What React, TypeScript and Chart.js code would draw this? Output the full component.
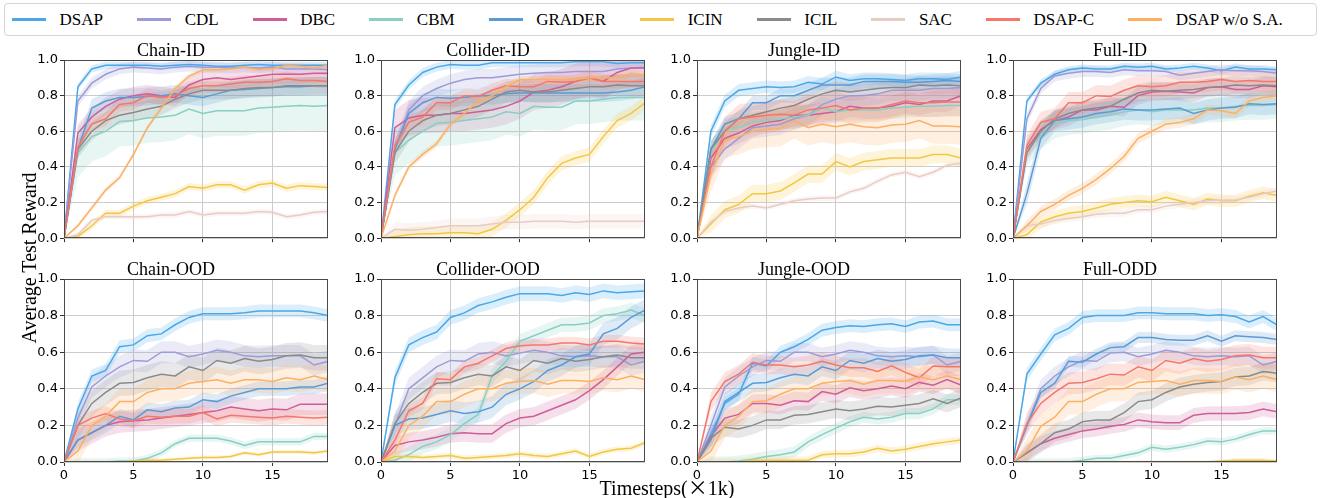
import React, { useEffect, useRef } from 'react';
import { Chart, registerables } from 'chart.js';

Chart.register(...registerables);

// ---------- data ----------
const timesteps = [0, 1, 2, 3, 4, 5, 6, 7, 8, 9, 10, 11, 12, 13, 14, 15, 16, 17, 18, 19];
const xTickValues = [0, 5, 10, 15];
const yTickValues = [0, 0.2, 0.4, 0.6, 0.8, 1.0];

const seriesNames = ['DSAP', 'CDL', 'DBC', 'CBM', 'GRADER', 'ICIN', 'ICIL', 'SAC', 'DSAP-C', 'DSAP w/o S.A.'];
const seriesColors = ['#4aa8ea', '#9d9bd6', '#cf5d9a', '#88cfc4', '#5b9bd5', '#f3c644', '#8a8a8a', '#e9cbc6', '#f4776a', '#fcb064'];

const panelTitles = ['Chain-ID', 'Collider-ID', 'Jungle-ID', 'Full-ID', 'Chain-OOD', 'Collider-OOD', 'Jungle-OOD', 'Full-ODD'];

// series order in every panel: DSAP, CDL, DBC, CBM, GRADER, ICIN, ICIL, SAC, DSAP-C, DSAP w/o S.A.
const chainIdValues = [
  [0, 0.85, 0.95, 0.97, 0.97, 0.97, 0.97, 0.965, 0.97, 0.975, 0.97, 0.965, 0.965, 0.97, 0.975, 0.97, 0.97, 0.97, 0.97, 0.97],
  [0, 0.77, 0.87, 0.92, 0.95, 0.96, 0.955, 0.95, 0.96, 0.965, 0.96, 0.96, 0.955, 0.96, 0.955, 0.96, 0.95, 0.95, 0.95, 0.945],
  [0, 0.59, 0.68, 0.74, 0.78, 0.80, 0.81, 0.80, 0.79, 0.86, 0.89, 0.90, 0.89, 0.90, 0.91, 0.92, 0.92, 0.92, 0.925, 0.925],
  [0, 0.48, 0.57, 0.60, 0.655, 0.66, 0.675, 0.68, 0.69, 0.725, 0.70, 0.715, 0.715, 0.715, 0.73, 0.735, 0.74, 0.745, 0.74, 0.745],
  [0, 0.50, 0.73, 0.77, 0.79, 0.79, 0.795, 0.80, 0.81, 0.80, 0.79, 0.81, 0.83, 0.835, 0.84, 0.845, 0.85, 0.85, 0.855, 0.855],
  [0, 0.01, 0.07, 0.14, 0.14, 0.18, 0.21, 0.23, 0.25, 0.29, 0.28, 0.30, 0.30, 0.27, 0.30, 0.31, 0.28, 0.295, 0.29, 0.285],
  [0, 0.50, 0.60, 0.66, 0.69, 0.705, 0.725, 0.74, 0.78, 0.81, 0.83, 0.83, 0.83, 0.84, 0.845, 0.845, 0.855, 0.855, 0.855, 0.855],
  [0, 0.02, 0.10, 0.12, 0.12, 0.12, 0.12, 0.13, 0.13, 0.15, 0.13, 0.14, 0.14, 0.14, 0.15, 0.145, 0.12, 0.13, 0.145, 0.15],
  [0, 0.51, 0.64, 0.67, 0.75, 0.76, 0.80, 0.79, 0.80, 0.84, 0.855, 0.855, 0.865, 0.875, 0.875, 0.88, 0.895, 0.885, 0.885, 0.88],
  [0, 0.07, 0.17, 0.27, 0.34, 0.47, 0.62, 0.73, 0.84, 0.91, 0.945, 0.945, 0.95, 0.96, 0.945, 0.95, 0.97, 0.965, 0.955, 0.97],
];
const chainIdSpread = [0.02, 0.03, 0.05, 0.14, 0.05, 0.02, 0.05, 0.015, 0.04, 0.015];

const colliderIdValues = [
  [0, 0.75, 0.86, 0.93, 0.96, 0.975, 0.97, 0.97, 0.985, 0.985, 0.985, 0.985, 0.985, 0.985, 0.99, 0.99, 0.99, 0.98, 0.985, 0.985],
  [0, 0.50, 0.72, 0.80, 0.84, 0.87, 0.89, 0.90, 0.90, 0.91, 0.92, 0.925, 0.93, 0.93, 0.935, 0.935, 0.935, 0.95, 0.955, 0.96],
  [0, 0.62, 0.675, 0.69, 0.69, 0.70, 0.70, 0.71, 0.72, 0.74, 0.77, 0.82, 0.83, 0.85, 0.88, 0.90, 0.88, 0.93, 0.955, 0.955],
  [0, 0.48, 0.55, 0.60, 0.645, 0.65, 0.66, 0.67, 0.68, 0.71, 0.70, 0.74, 0.735, 0.735, 0.77, 0.77, 0.78, 0.79, 0.79, 0.79],
  [0, 0.50, 0.70, 0.76, 0.79, 0.785, 0.79, 0.80, 0.80, 0.81, 0.815, 0.815, 0.815, 0.815, 0.815, 0.815, 0.815, 0.82, 0.83, 0.85],
  [0, 0.01, 0.02, 0.025, 0.025, 0.03, 0.03, 0.025, 0.05, 0.10, 0.16, 0.23, 0.34, 0.42, 0.45, 0.47, 0.57, 0.66, 0.70, 0.76],
  [0, 0.48, 0.60, 0.66, 0.69, 0.70, 0.72, 0.74, 0.78, 0.82, 0.83, 0.82, 0.82, 0.83, 0.84, 0.85, 0.85, 0.86, 0.855, 0.855],
  [0, 0.05, 0.045, 0.05, 0.06, 0.07, 0.07, 0.07, 0.08, 0.09, 0.09, 0.095, 0.095, 0.095, 0.09, 0.095, 0.095, 0.095, 0.095, 0.095],
  [0, 0.52, 0.65, 0.68, 0.76, 0.76, 0.80, 0.795, 0.83, 0.855, 0.85, 0.85, 0.88, 0.875, 0.88, 0.90, 0.88, 0.88, 0.88, 0.88],
  [0, 0.24, 0.40, 0.47, 0.53, 0.64, 0.70, 0.77, 0.80, 0.85, 0.89, 0.89, 0.89, 0.89, 0.89, 0.90, 0.90, 0.90, 0.925, 0.915],
];
const colliderIdSpread = [0.025, 0.05, 0.1, 0.13, 0.05, 0.04, 0.06, 0.04, 0.04, 0.02];

const jungleIdValues = [
  [0, 0.60, 0.77, 0.83, 0.84, 0.85, 0.845, 0.85, 0.875, 0.865, 0.905, 0.885, 0.895, 0.895, 0.89, 0.885, 0.895, 0.895, 0.89, 0.905],
  [0, 0.40, 0.50, 0.56, 0.62, 0.63, 0.64, 0.67, 0.69, 0.75, 0.78, 0.80, 0.80, 0.81, 0.83, 0.83, 0.83, 0.84, 0.84, 0.845],
  [0, 0.45, 0.56, 0.59, 0.63, 0.65, 0.66, 0.69, 0.69, 0.70, 0.71, 0.74, 0.73, 0.73, 0.74, 0.76, 0.75, 0.77, 0.77, 0.80],
  [0, 0.48, 0.61, 0.62, 0.65, 0.66, 0.67, 0.68, 0.69, 0.73, 0.71, 0.72, 0.72, 0.72, 0.73, 0.735, 0.74, 0.74, 0.745, 0.745],
  [0, 0.50, 0.64, 0.67, 0.76, 0.76, 0.80, 0.80, 0.83, 0.86, 0.86, 0.86, 0.88, 0.88, 0.88, 0.875, 0.875, 0.88, 0.885, 0.88],
  [0, 0.08, 0.16, 0.19, 0.25, 0.25, 0.265, 0.31, 0.36, 0.36, 0.43, 0.40, 0.43, 0.44, 0.45, 0.45, 0.45, 0.47, 0.47, 0.45],
  [0, 0.50, 0.60, 0.67, 0.69, 0.71, 0.73, 0.745, 0.78, 0.81, 0.83, 0.82, 0.83, 0.84, 0.845, 0.845, 0.86, 0.855, 0.86, 0.855],
  [0, 0.09, 0.15, 0.17, 0.18, 0.17, 0.19, 0.21, 0.22, 0.225, 0.225, 0.26, 0.28, 0.32, 0.355, 0.37, 0.345, 0.37, 0.41, 0.42],
  [0, 0.40, 0.60, 0.67, 0.68, 0.69, 0.695, 0.69, 0.72, 0.73, 0.745, 0.72, 0.73, 0.73, 0.75, 0.77, 0.76, 0.76, 0.765, 0.765],
  [0, 0.36, 0.55, 0.57, 0.60, 0.61, 0.615, 0.66, 0.62, 0.64, 0.625, 0.64, 0.625, 0.62, 0.635, 0.64, 0.66, 0.63, 0.63, 0.625],
];
const jungleIdSpread = [0.035, 0.06, 0.06, 0.06, 0.04, 0.05, 0.05, 0.015, 0.08, 0.1];

const fullIdValues = [
  [0, 0.77, 0.87, 0.92, 0.945, 0.955, 0.95, 0.95, 0.965, 0.96, 0.965, 0.95, 0.955, 0.965, 0.955, 0.94, 0.96, 0.95, 0.95, 0.945],
  [0, 0.67, 0.84, 0.91, 0.925, 0.935, 0.935, 0.93, 0.945, 0.94, 0.94, 0.935, 0.915, 0.925, 0.935, 0.945, 0.94, 0.94, 0.935, 0.925],
  [0, 0.50, 0.61, 0.66, 0.68, 0.72, 0.72, 0.74, 0.735, 0.80, 0.82, 0.825, 0.82, 0.815, 0.845, 0.85, 0.835, 0.835, 0.855, 0.85],
  [0, 0.49, 0.58, 0.64, 0.66, 0.665, 0.68, 0.69, 0.71, 0.72, 0.71, 0.72, 0.72, 0.72, 0.73, 0.73, 0.74, 0.745, 0.745, 0.75],
  [0, 0.25, 0.56, 0.66, 0.67, 0.68, 0.70, 0.71, 0.725, 0.72, 0.72, 0.725, 0.73, 0.70, 0.72, 0.73, 0.735, 0.755, 0.75, 0.755],
  [0, 0.02, 0.09, 0.12, 0.14, 0.15, 0.17, 0.19, 0.20, 0.21, 0.205, 0.23, 0.21, 0.19, 0.22, 0.21, 0.21, 0.235, 0.255, 0.24],
  [0, 0.48, 0.60, 0.67, 0.70, 0.72, 0.73, 0.74, 0.78, 0.815, 0.83, 0.825, 0.83, 0.835, 0.845, 0.85, 0.86, 0.855, 0.86, 0.855],
  [0, 0.07, 0.08, 0.10, 0.11, 0.12, 0.135, 0.14, 0.14, 0.16, 0.16, 0.18, 0.19, 0.20, 0.21, 0.215, 0.215, 0.23, 0.25, 0.265],
  [0, 0.52, 0.65, 0.67, 0.76, 0.76, 0.80, 0.795, 0.83, 0.855, 0.85, 0.855, 0.875, 0.875, 0.88, 0.89, 0.88, 0.885, 0.88, 0.88],
  [0, 0.07, 0.15, 0.19, 0.24, 0.28, 0.33, 0.39, 0.46, 0.56, 0.60, 0.64, 0.65, 0.67, 0.72, 0.715, 0.70, 0.77, 0.79, 0.80],
];
const fullIdSpread = [0.02, 0.03, 0.05, 0.08, 0.06, 0.035, 0.05, 0.02, 0.06, 0.03];

const chainOodValues = [
  [0, 0.29, 0.47, 0.50, 0.63, 0.64, 0.69, 0.70, 0.75, 0.79, 0.81, 0.81, 0.81, 0.815, 0.825, 0.825, 0.825, 0.825, 0.815, 0.80],
  [0, 0.24, 0.41, 0.47, 0.52, 0.555, 0.55, 0.60, 0.60, 0.575, 0.59, 0.61, 0.60, 0.58, 0.575, 0.58, 0.58, 0.58, 0.53, 0.55],
  [0, 0.12, 0.16, 0.20, 0.22, 0.225, 0.23, 0.24, 0.25, 0.26, 0.27, 0.28, 0.30, 0.29, 0.28, 0.29, 0.285, 0.315, 0.315, 0.315],
  [0, 0, 0, 0, 0.005, 0.005, 0.02, 0.05, 0.10, 0.13, 0.13, 0.13, 0.115, 0.09, 0.11, 0.11, 0.11, 0.11, 0.14, 0.14],
  [0, 0.12, 0.16, 0.20, 0.25, 0.23, 0.285, 0.275, 0.295, 0.30, 0.34, 0.33, 0.36, 0.38, 0.40, 0.40, 0.40, 0.41, 0.41, 0.43],
  [0, 0, 0, 0, 0, 0.005, 0.01, 0.01, 0.015, 0.02, 0.025, 0.025, 0.03, 0.05, 0.04, 0.055, 0.055, 0.055, 0.05, 0.06],
  [0, 0.20, 0.32, 0.38, 0.43, 0.435, 0.46, 0.48, 0.47, 0.52, 0.50, 0.555, 0.54, 0.565, 0.55, 0.56, 0.58, 0.585, 0.57, 0.57],
  [0, 0, 0, 0, 0, 0, 0, 0, 0, 0, 0, 0, 0, 0, 0, 0, 0, 0, 0, 0],
  [0, 0.20, 0.24, 0.265, 0.235, 0.225, 0.25, 0.245, 0.25, 0.25, 0.27, 0.235, 0.255, 0.25, 0.245, 0.24, 0.25, 0.245, 0.24, 0.245],
  [0, 0.06, 0.20, 0.25, 0.33, 0.33, 0.38, 0.40, 0.40, 0.43, 0.44, 0.45, 0.43, 0.45, 0.45, 0.44, 0.46, 0.45, 0.47, 0.45],
];
const chainOodSpread = [0.035, 0.06, 0.06, 0.02, 0.04, 0.01, 0.07, 0, 0.04, 0.07];

const colliderOodValues = [
  [0, 0.46, 0.64, 0.68, 0.71, 0.79, 0.815, 0.855, 0.875, 0.90, 0.92, 0.92, 0.92, 0.91, 0.925, 0.915, 0.935, 0.925, 0.93, 0.935],
  [0, 0.20, 0.40, 0.46, 0.52, 0.555, 0.55, 0.59, 0.60, 0.58, 0.595, 0.61, 0.60, 0.58, 0.575, 0.58, 0.575, 0.575, 0.53, 0.55],
  [0, 0.09, 0.11, 0.12, 0.135, 0.155, 0.16, 0.155, 0.155, 0.21, 0.24, 0.25, 0.28, 0.31, 0.34, 0.39, 0.45, 0.52, 0.59, 0.60],
  [0, 0.01, 0.04, 0.085, 0.11, 0.15, 0.21, 0.26, 0.47, 0.55, 0.66, 0.69, 0.72, 0.75, 0.75, 0.76, 0.80, 0.81, 0.83, 0.80],
  [0, 0.20, 0.235, 0.24, 0.26, 0.28, 0.265, 0.275, 0.30, 0.37, 0.40, 0.44, 0.50, 0.53, 0.575, 0.59, 0.70, 0.73, 0.79, 0.83],
  [0, 0.03, 0.03, 0.025, 0.03, 0.035, 0.02, 0.025, 0.03, 0.035, 0.045, 0.035, 0.03, 0.045, 0.06, 0.03, 0.055, 0.07, 0.075, 0.105],
  [0, 0.21, 0.32, 0.38, 0.43, 0.435, 0.46, 0.48, 0.47, 0.52, 0.50, 0.555, 0.54, 0.565, 0.55, 0.56, 0.575, 0.585, 0.57, 0.57],
  [0, 0, 0, 0, 0, 0, 0, 0, 0, 0, 0, 0, 0, 0, 0, 0, 0, 0, 0, 0],
  [0, 0.12, 0.28, 0.32, 0.455, 0.45, 0.52, 0.54, 0.58, 0.62, 0.635, 0.64, 0.64, 0.65, 0.65, 0.64, 0.66, 0.66, 0.65, 0.645],
  [0, 0.06, 0.20, 0.25, 0.33, 0.33, 0.37, 0.40, 0.40, 0.43, 0.44, 0.445, 0.425, 0.445, 0.445, 0.44, 0.46, 0.45, 0.47, 0.45],
];
const colliderOodSpread = [0.04, 0.06, 0.05, 0.04, 0.06, 0.015, 0.06, 0, 0.035, 0.07];

const jungleOodValues = [
  [0, 0.15, 0.32, 0.37, 0.54, 0.525, 0.60, 0.63, 0.67, 0.72, 0.735, 0.745, 0.74, 0.75, 0.755, 0.74, 0.765, 0.77, 0.75, 0.75],
  [0, 0.20, 0.41, 0.47, 0.52, 0.555, 0.55, 0.60, 0.60, 0.575, 0.59, 0.61, 0.60, 0.58, 0.575, 0.58, 0.575, 0.585, 0.53, 0.55],
  [0, 0.14, 0.24, 0.26, 0.32, 0.32, 0.31, 0.335, 0.33, 0.385, 0.37, 0.405, 0.39, 0.40, 0.415, 0.40, 0.435, 0.42, 0.45, 0.42],
  [0, 0, 0, 0.005, 0.015, 0.03, 0.04, 0.055, 0.11, 0.15, 0.185, 0.22, 0.245, 0.235, 0.245, 0.265, 0.265, 0.29, 0.34, 0.34],
  [0, 0.12, 0.33, 0.38, 0.43, 0.435, 0.46, 0.48, 0.47, 0.52, 0.50, 0.555, 0.54, 0.565, 0.55, 0.56, 0.58, 0.585, 0.57, 0.57],
  [0, 0, 0, 0, 0.01, 0.01, 0.01, 0.01, 0.01, 0.04, 0.045, 0.045, 0.055, 0.075, 0.06, 0.07, 0.085, 0.10, 0.11, 0.12],
  [0, 0.13, 0.19, 0.18, 0.20, 0.23, 0.23, 0.255, 0.26, 0.275, 0.29, 0.28, 0.29, 0.305, 0.30, 0.31, 0.32, 0.345, 0.32, 0.35],
  [0, 0, 0, 0, 0, 0, 0, 0, 0, 0, 0, 0, 0, 0, 0, 0, 0, 0, 0, 0],
  [0, 0.33, 0.44, 0.48, 0.545, 0.53, 0.53, 0.52, 0.53, 0.55, 0.53, 0.515, 0.515, 0.495, 0.525, 0.49, 0.46, 0.525, 0.52, 0.52],
  [0, 0.06, 0.20, 0.25, 0.33, 0.335, 0.37, 0.40, 0.40, 0.43, 0.44, 0.445, 0.425, 0.445, 0.445, 0.44, 0.465, 0.45, 0.47, 0.45],
];
const jungleOodSpread = [0.035, 0.05, 0.05, 0.03, 0.05, 0.02, 0.05, 0, 0.05, 0.07];

const fullOodValues = [
  [0, 0.48, 0.59, 0.695, 0.73, 0.79, 0.80, 0.80, 0.80, 0.815, 0.815, 0.81, 0.81, 0.81, 0.80, 0.805, 0.795, 0.765, 0.795, 0.75],
  [0, 0.20, 0.40, 0.47, 0.52, 0.555, 0.55, 0.595, 0.60, 0.575, 0.59, 0.61, 0.60, 0.58, 0.575, 0.58, 0.575, 0.58, 0.53, 0.55],
  [0, 0.05, 0.10, 0.13, 0.15, 0.17, 0.18, 0.195, 0.205, 0.23, 0.22, 0.215, 0.215, 0.255, 0.265, 0.265, 0.265, 0.27, 0.29, 0.275],
  [0, 0, 0, 0, 0, 0.01, 0.02, 0.02, 0.035, 0.05, 0.08, 0.07, 0.08, 0.095, 0.115, 0.11, 0.125, 0.15, 0.17, 0.17],
  [0, 0.20, 0.38, 0.43, 0.55, 0.545, 0.59, 0.625, 0.63, 0.68, 0.68, 0.67, 0.665, 0.665, 0.69, 0.66, 0.69, 0.685, 0.68, 0.67],
  [0, 0, 0, 0, 0, 0, 0, 0, 0, 0, 0, 0, 0, 0, 0, 0.005, 0.01, 0.01, 0.01, 0.005],
  [0, 0.05, 0.10, 0.16, 0.18, 0.22, 0.23, 0.23, 0.27, 0.33, 0.34, 0.38, 0.41, 0.425, 0.435, 0.44, 0.465, 0.47, 0.495, 0.485],
  [0, 0, 0, 0, 0, 0, 0, 0, 0, 0, 0, 0, 0, 0, 0, 0, 0, 0, 0, 0],
  [0, 0.21, 0.32, 0.38, 0.43, 0.435, 0.455, 0.48, 0.475, 0.52, 0.50, 0.555, 0.54, 0.565, 0.55, 0.56, 0.58, 0.585, 0.57, 0.57],
  [0, 0.06, 0.195, 0.245, 0.33, 0.33, 0.37, 0.40, 0.40, 0.435, 0.44, 0.445, 0.425, 0.445, 0.445, 0.44, 0.465, 0.45, 0.47, 0.45],
];
const fullOodSpread = [0.035, 0.05, 0.04, 0.02, 0.03, 0.01, 0.05, 0, 0.06, 0.07];

const panelValues = [chainIdValues, colliderIdValues, jungleIdValues, fullIdValues, chainOodValues, colliderOodValues, jungleOodValues, fullOodValues];
const panelSpreads = [chainIdSpread, colliderIdSpread, jungleIdSpread, fullIdSpread, chainOodSpread, colliderOodSpread, jungleOodSpread, fullOodSpread];

// ---------- layout ----------
const PLOT_LEFTS = [64, 381, 697, 1013];
const PLOT_TOPS = [60, 279];
const PLOT_W = 264;
const PLOT_H = 183;
const Y_AXIS_W = 50;
const TITLE_H = 20;
const RIGHT_PAD = 50; // symmetric with the y axis so the title centres over the plot

function withAlpha(hex: string, a: number) {
  const r = parseInt(hex.slice(1, 3), 16);
  const g = parseInt(hex.slice(3, 5), 16);
  const b = parseInt(hex.slice(5, 7), 16);
  return `rgba(${r},${g},${b},${a})`;
}

const framePlugin = {
  id: 'frame',
  afterDatasetsDraw(chart: any) {
    const { ctx, chartArea: a } = chart;
    ctx.save();
    ctx.strokeStyle = '#4a4a4a';
    ctx.lineWidth = 1;
    ctx.strokeRect(Math.round(a.left) + 0.5, Math.round(a.top) + 0.5, Math.round(a.width) - 1, Math.round(a.height) - 1);
    ctx.restore();
  },
};

function Panel({ index }: { index: number }) {
  const ref = useRef<HTMLCanvasElement | null>(null);
  const row = index < 4 ? 0 : 1;
  const col = index % 4;
  const showX = row === 1;
  const xAxisH = showX ? 23 : 5;
  const width = Y_AXIS_W + PLOT_W + RIGHT_PAD;
  const height = TITLE_H + PLOT_H + xAxisH;
  const left = PLOT_LEFTS[col] - Y_AXIS_W;
  const top = PLOT_TOPS[row] - TITLE_H;

  useEffect(() => {
    if (!ref.current) return;
    const values = panelValues[index];
    const spreads = panelSpreads[index];
    const datasets: any[] = [];
    values.forEach((vals, s) => {
      const color = seriesColors[s];
      const sp = spreads[s];
      const upper = vals.map((v, i) => ({ x: timesteps[i], y: i === 0 ? v : v + sp }));
      const lower = vals.map((v, i) => ({ x: timesteps[i], y: i === 0 ? v : v - sp }));
      const mean = vals.map((v, i) => ({ x: timesteps[i], y: v }));
      datasets.push({
        label: seriesNames[s] + ' upper',
        data: upper,
        borderColor: 'rgba(0,0,0,0)',
        borderWidth: 0,
        pointRadius: 0,
        fill: false,
        order: 200 - s,
      });
      datasets.push({
        label: seriesNames[s] + ' lower',
        data: lower,
        borderColor: 'rgba(0,0,0,0)',
        borderWidth: 0,
        pointRadius: 0,
        fill: '-1',
        backgroundColor: withAlpha(color, 0.2),
        order: 200 - s,
      });
      datasets.push({
        label: seriesNames[s],
        data: mean,
        borderColor: color,
        borderWidth: 1.5,
        pointRadius: 0,
        fill: false,
        tension: 0,
        order: 100 - s,
      });
    });

    const chart = new Chart(ref.current, {
      type: 'line',
      data: { datasets },
      plugins: [framePlugin],
      options: {
        responsive: false,
        animation: false,
        events: [],
        layout: { padding: { left: 0, right: RIGHT_PAD, top: 0, bottom: 0 } },
        plugins: {
          legend: { display: false },
          tooltip: { enabled: false },
          filler: { drawTime: 'beforeDatasetsDraw' },
          title: {
            display: true,
            text: panelTitles[index],
            color: '#000',
            font: { family: 'Liberation Serif', size: 18, weight: 'normal', lineHeight: 1 },
            padding: { top: 2, bottom: 0 },
          },
        },
        scales: {
          x: {
            type: 'linear',
            min: 0,
            max: 19,
            afterBuildTicks: (scale: any) => {
              scale.ticks = xTickValues.map((v) => ({ value: v }));
            },
            afterFit: (scale: any) => {
              scale.height = xAxisH;
            },
            ticks: {
              display: showX,
              color: '#000',
              font: { family: 'DejaVu Sans', size: 13 },
              padding: 2,
              maxRotation: 0,
              callback: (v: any) => String(v),
            },
            grid: { color: '#cccccc', lineWidth: 1, drawTicks: true, tickLength: 4, tickColor: '#333' },
            border: { display: false },
          },
          y: {
            min: 0,
            max: 1,
            afterBuildTicks: (scale: any) => {
              scale.ticks = yTickValues.map((v) => ({ value: v }));
            },
            afterFit: (scale: any) => {
              scale.width = Y_AXIS_W;
            },
            ticks: {
              color: '#000',
              font: { family: 'DejaVu Sans', size: 13 },
              padding: 2,
              callback: (v: any) => Number(v).toFixed(1),
            },
            grid: { color: '#cccccc', lineWidth: 1, drawTicks: true, tickLength: 4, tickColor: '#333' },
            border: { display: false },
          },
        },
      } as any,
    });
    return () => chart.destroy();
  }, [index]);

  return (
    <div style={{ position: 'absolute', left, top, width, height }}>
      <canvas ref={ref} width={width} height={height} style={{ display: 'block' }} />
    </div>
  );
}

function Legend() {
  return (
    <div
      style={{
        position: 'absolute',
        left: 4,
        top: 3,
        width: 1313,
        height: 33,
        boxSizing: 'border-box',
        border: '1px solid #d6d6d6',
        borderRadius: 4,
        display: 'flex',
        alignItems: 'center',
        paddingLeft: 7,
        fontFamily: '"Liberation Serif", serif',
        fontSize: 17,
        color: '#000',
        background: '#fff',
      }}
    >
      {seriesNames.map((name, i) => (
        <div
          key={name}
          style={{ display: 'flex', alignItems: 'center', flexShrink: 0, marginRight: i < seriesNames.length - 1 ? 34 : 0 }}
        >
          <span style={{ display: 'inline-block', flexShrink: 0, width: 34, height: 2.5, background: seriesColors[i], marginRight: 13.6 }} />
          <span style={{ whiteSpace: 'nowrap', flexShrink: 0, lineHeight: '20px' }}>{name}</span>
        </div>
      ))}
    </div>
  );
}

export default function App() {
  return (
    <div style={{ position: 'fixed', left: 0, top: 0, width: 1325, height: 498, background: '#fff', overflow: 'hidden' }}>
      <Legend />
      {panelTitles.map((_, i) => (
        <Panel key={i} index={i} />
      ))}
      <div
        style={{
          position: 'absolute',
          left: 29 - 150,
          top: 258 - 12,
          width: 300,
          height: 24,
          lineHeight: '24px',
          textAlign: 'center',
          transform: 'rotate(-90deg)',
          fontFamily: '"Liberation Serif", serif',
          fontSize: 20,
          color: '#000',
          whiteSpace: 'nowrap',
        }}
      >
        Average Test Reward
      </div>
      <div
        style={{
          position: 'absolute',
          left: 567,
          top: 475,
          width: 200,
          lineHeight: '24px',
          textAlign: 'center',
          fontFamily: '"Liberation Serif", serif',
          fontSize: 20,
          color: '#000',
          whiteSpace: 'nowrap',
        }}
      >
        Timesteps(<span style={{ fontFamily: '"Noto Sans CJK SC", sans-serif' }}>×</span>1k)
      </div>
    </div>
  );
}
